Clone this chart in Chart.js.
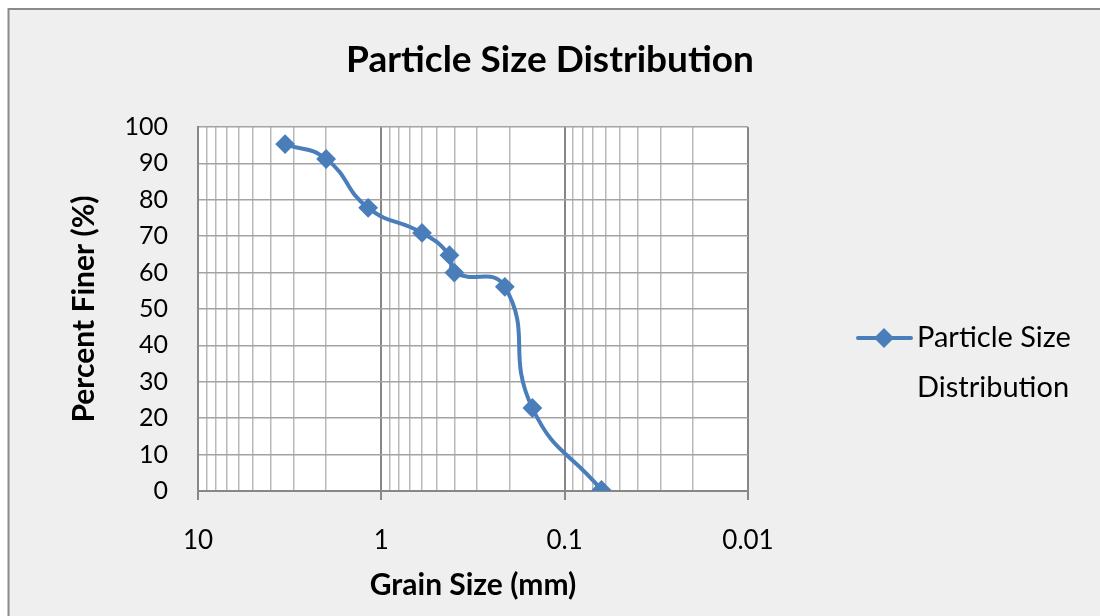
<!DOCTYPE html>
<html lang="en">
  <head>
    <meta charset="UTF-8" />
    <title>Particle Size Distribution</title>
    <script src="https://cdn.jsdelivr.net/npm/chart.js@4.4.0/dist/chart.umd.min.js"></script>
    <style>
      html,
      body {
        margin: 0;
        padding: 0;
        background: #ffffff;
      }
    </style>
  </head>
  <body>
    <canvas id="psdChart" width="1100" height="616"></canvas>

    <script>
      // sieve data
      const grainSize = [3.35, 2.0, 1.18, 0.6, 0.425, 0.4, 0.212, 0.15, 0.063];
      const percentFiner = [95.3, 91.2, 77.8, 70.9, 64.8, 60.0, 56.1, 22.8, 0.3];

      // axis ticks
      const xDecades = [10, 1, 0.1, 0.01];
      const xDecadeLabels = ["10", "1", "0.1", "0.01"];
      const yTickValues = [0, 10, 20, 30, 40, 50, 60, 70, 80, 90, 100];

      const seriesName = "Particle Size Distribution";
      const legendLines = ["Particle Size", "Distribution"];
      const lineColor = "#4a7ebb";

      // gridlines at 1..9 of every decade (log paper)
      const xTickValues = [10];
      [1, 0.1, 0.01].forEach((d) => {
        for (let k = 1; k <= 9; k++) {
          xTickValues.push(+(k * d).toPrecision(3));
        }
      });

      const isDecade = (v) => xDecades.includes(v);

      const framePlugin = {
        id: "frame",
        beforeDraw(chart) {
          const { ctx, chartArea } = chart;
          ctx.save();
          ctx.fillStyle = "#ffffff";
          ctx.fillRect(0, 0, chart.width, chart.height);
          ctx.fillStyle = "#efefef";
          ctx.fillRect(8, 9, chart.width, chart.height);
          ctx.strokeStyle = "#8a8a8a";
          ctx.lineWidth = 2;
          ctx.beginPath();
          ctx.moveTo(8.5, chart.height);
          ctx.lineTo(8.5, 9);
          ctx.lineTo(chart.width, 9);
          ctx.stroke();
          // white plot area
          ctx.fillStyle = "#ffffff";
          ctx.fillRect(
            chartArea.left,
            chartArea.top,
            chartArea.right - chartArea.left,
            chartArea.bottom - chartArea.top
          );
          ctx.restore();
        },
      };

      // Excel style legend: line with diamond, label wrapped on two lines
      const sideLegend = {
        id: "sideLegend",
        afterDraw(chart) {
          const { ctx } = chart;
          const y = 338;
          ctx.save();
          ctx.strokeStyle = lineColor;
          ctx.lineWidth = 4;
          ctx.lineCap = "round";
          ctx.beginPath();
          ctx.moveTo(858, y);
          ctx.lineTo(911, y);
          ctx.stroke();
          ctx.fillStyle = lineColor;
          ctx.beginPath();
          ctx.moveTo(884, y - 10);
          ctx.lineTo(894, y);
          ctx.lineTo(884, y + 10);
          ctx.lineTo(874, y);
          ctx.closePath();
          ctx.fill();
          ctx.fillStyle = "#000000";
          ctx.font = "29px Lato";
          ctx.textBaseline = "middle";
          ctx.textAlign = "left";
          legendLines.forEach((line, i) => {
            ctx.fillText(line, 917, y + i * 50);
          });
          ctx.restore();
        },
      };

      const ctx = document.getElementById("psdChart").getContext("2d");

      new Chart(ctx, {
        type: "line",
        data: {
          datasets: [
            {
              label: seriesName,
              data: grainSize.map((g, i) => ({ x: g, y: percentFiner[i] })),
              borderColor: lineColor,
              backgroundColor: lineColor,
              borderWidth: 4,
              pointStyle: "rectRot",
              pointRadius: 8.5,
              pointBorderWidth: 2,
              pointBackgroundColor: lineColor,
              pointBorderColor: lineColor,
              tension: 0.5,
              fill: false,
            },
          ],
        },
        options: {
          responsive: false,
          animation: false,
          layout: { padding: 0 },
          plugins: {
            legend: { display: false },
            tooltip: { enabled: false },
            title: {
              display: true,
              text: seriesName,
              color: "#000000",
              font: { family: "Lato", size: 37, weight: "bold", lineHeight: 1.2 },
              padding: { top: 38, bottom: 44.6 },
            },
          },
          scales: {
            x: {
              type: "logarithmic",
              reverse: true,
              min: 0.01,
              max: 10,
              afterBuildTicks: (scale) => {
                scale.ticks = xTickValues.map((v) => ({ value: v }));
              },
              afterFit: (scale) => {
                scale.height = 125;
                scale.paddingLeft = 0;
                scale.paddingRight = 352; // room for the legend on the right
              },
              ticks: {
                autoSkip: false,
                maxRotation: 0,
                padding: 25,
                color: "#000000",
                font: { family: "Lato", size: 26 },
                callback: (value) =>
                  isDecade(value) ? xDecadeLabels[xDecades.indexOf(value)] : "",
              },
              grid: {
                color: (c) => (c.tick && isDecade(c.tick.value) ? "#878787" : "#b9b9b9"),
                lineWidth: (c) => (c.tick && isDecade(c.tick.value) ? 2 : 1.5),
                tickLength: 9,
                tickWidth: 2,
                tickColor: (c) =>
                  c.tick && isDecade(c.tick.value) ? "#878787" : "rgba(0,0,0,0)",
              },
              border: { color: "#878787", width: 2 },
              title: {
                display: true,
                text: "Grain Size (mm)",
                color: "#000000",
                font: { family: "Lato", size: 30, weight: "bold", lineHeight: 1.2 },
                padding: { top: 0, bottom: 13 },
              },
            },
            y: {
              min: 0,
              max: 100,
              afterBuildTicks: (scale) => {
                scale.ticks = yTickValues.map((v) => ({ value: v }));
              },
              afterFit: (scale) => {
                scale.width = 198;
              },
              ticks: {
                padding: 30,
                color: "#000000",
                font: { family: "Lato", size: 25 },
              },
              grid: {
                color: "#a3a3a3",
                lineWidth: 1.5,
                drawTicks: false,
              },
              border: { color: "#878787", width: 2 },
              title: {
                display: true,
                text: "Percent Finer (%)",
                color: "#000000",
                font: { family: "Lato", size: 30, weight: "bold", lineHeight: 1.2 },
                padding: { top: 66, bottom: 0 },
              },
            },
          },
        },
        plugins: [framePlugin, sideLegend],
      });
    </script>
  </body>
</html>
